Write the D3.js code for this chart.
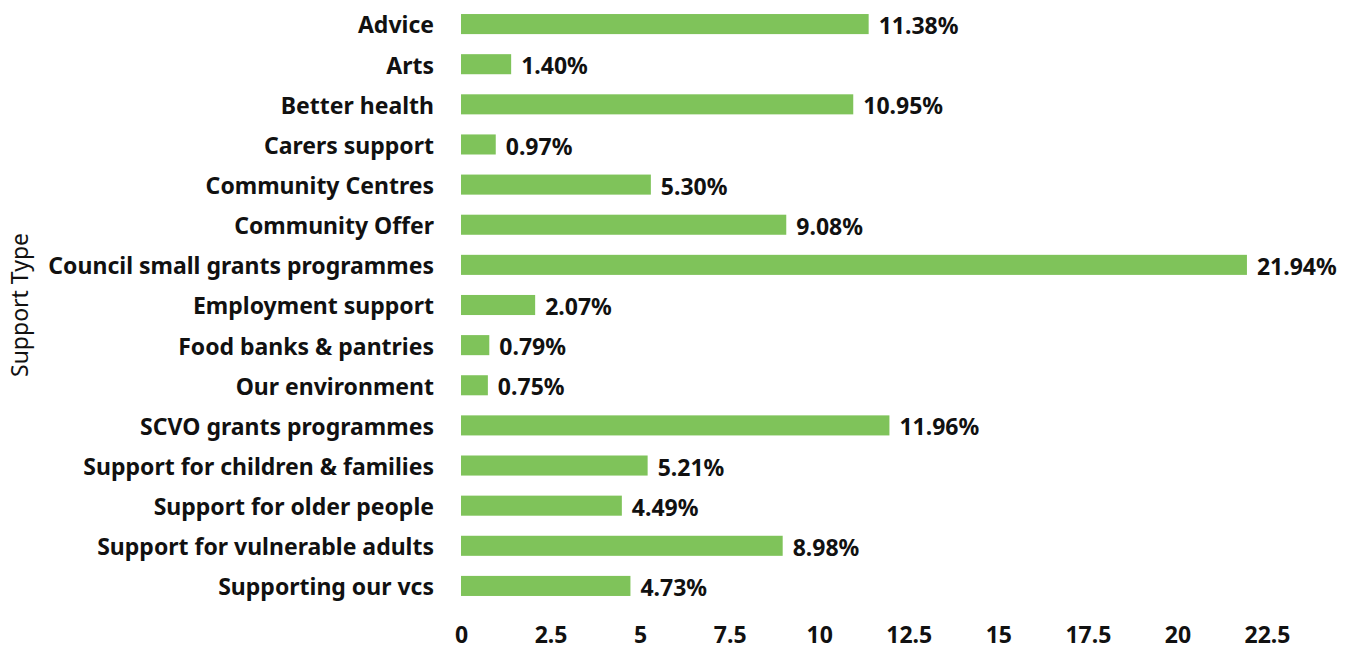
<!DOCTYPE html>
<html>
<head>
<meta charset="utf-8">
<script src="https://cdn.jsdelivr.net/npm/d3@7"></script>
<style>
  body { margin: 0; background: #fff; }
  text { font-family: "Noto Sans", "Open Sans", sans-serif; fill: #111; }
  .axis path, .axis line { display: none; }
</style>
</head>
<body>
<div id="chart"></div>
<script>
const categories = [
  'Advice', 'Arts', 'Better health', 'Carers support', 'Community Centres',
  'Community Offer', 'Council small grants programmes', 'Employment support',
  'Food banks & pantries', 'Our environment', 'SCVO grants programmes',
  'Support for children & families', 'Support for older people',
  'Support for vulnerable adults', 'Supporting our vcs'
];
const values = [11.38, 1.40, 10.95, 0.97, 5.30, 9.08, 21.94, 2.07, 0.79, 0.75,
  11.96, 5.21, 4.49, 8.98, 4.73];
const xTicks = [0, 2.5, 5, 7.5, 10, 12.5, 15, 17.5, 20, 22.5];

const data = categories.map((c, i) => ({ cat: c, value: values[i] }));

const width = 1358, height = 650;
const margin = { top: 4, left: 461, right: 91, bottom: 46 };

const svg = d3.select('#chart').append('svg')
  .attr('width', width)
  .attr('height', height);

const xScale = d3.scaleLinear().domain([0, 22.5]).range([margin.left, 1267]);
const yScale = d3.scaleBand().domain(categories)
  .range([margin.top, 606]).paddingInner(0.5).paddingOuter(0.25);

// bars
svg.selectAll('.bar')
  .data(data)
  .join('rect')
  .attr('class', 'bar')
  .attr('x', xScale(0))
  .attr('y', d => yScale(d.cat))
  .attr('width', d => xScale(d.value) - xScale(0))
  .attr('height', yScale.bandwidth())
  .attr('fill', '#7fc35a');

// value labels
svg.selectAll('.val')
  .data(data)
  .join('text')
  .attr('class', 'val')
  .attr('x', d => xScale(d.value) + 10)
  .attr('y', d => yScale(d.cat) + yScale.bandwidth() / 2 + 2)
  .attr('dy', '0.35em')
  .attr('font-size', 23)
  .attr('font-weight', 'bold')
  .text(d => d.value.toFixed(2) + '%');

// y axis
const yAxisG = svg.append('g')
  .attr('class', 'axis y-axis')
  .attr('transform', `translate(${margin.left - 27},2)`)
  .call(d3.axisLeft(yScale).tickSize(0).tickPadding(10));
yAxisG.selectAll('text')
  .attr('font-size', 23)
  .attr('font-weight', 'bold')
  .style('font-family', '"Noto Sans", sans-serif')
  .attr('x', 0);

// x axis
const xAxisG = svg.append('g')
  .attr('class', 'axis x-axis')
  .attr('transform', 'translate(0,621)')
  .call(d3.axisBottom(xScale).tickValues(xTicks).tickSize(0).tickPadding(6)
    .tickFormat(d3.format('~g')));
xAxisG.selectAll('text')
  .attr('font-size', 23)
  .attr('font-weight', 'bold')
  .style('font-family', '"Noto Sans", sans-serif');

// y axis title
svg.append('text')
  .attr('transform', 'translate(28,305) rotate(-90)')
  .attr('text-anchor', 'middle')
  .attr('font-size', 23)
  .text('Support Type');
</script>
</body>
</html>
